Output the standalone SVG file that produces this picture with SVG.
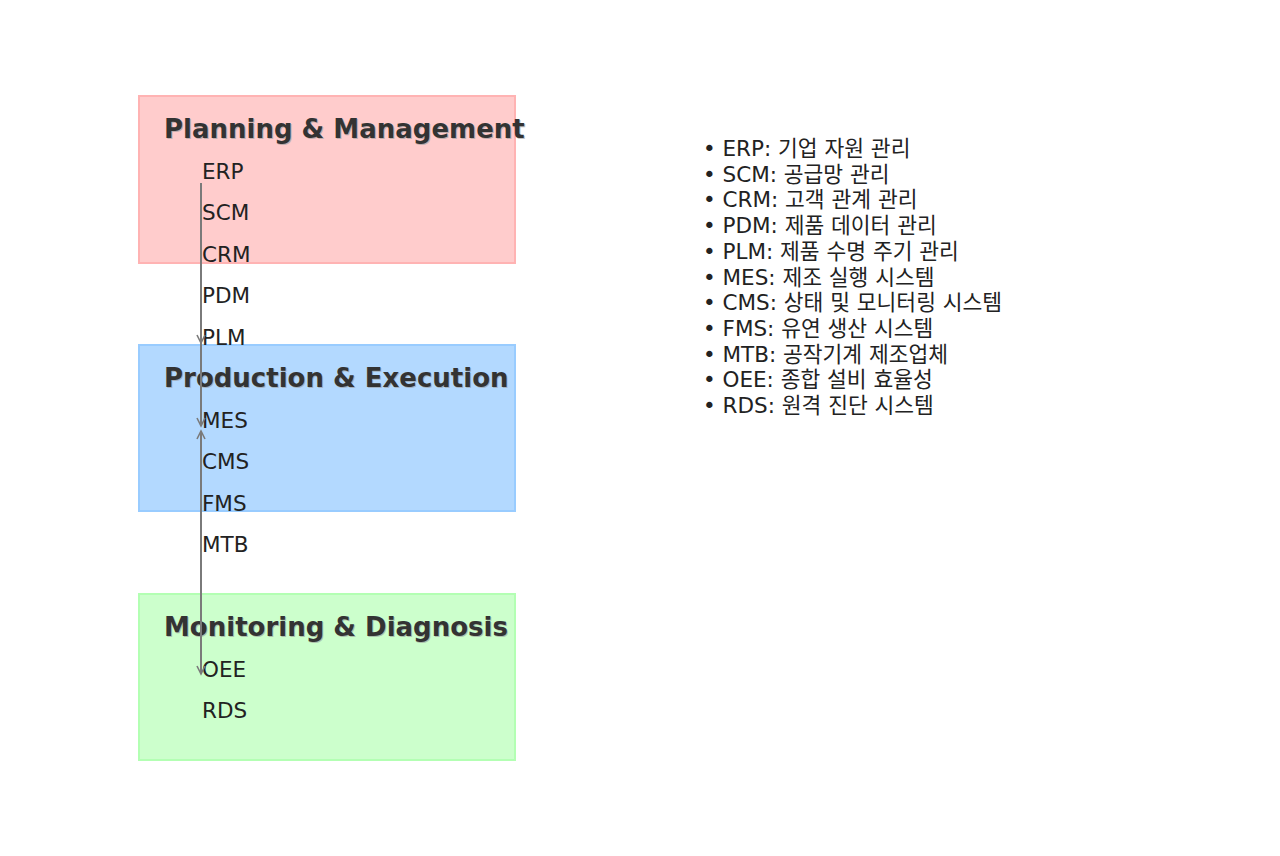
<svg xmlns="http://www.w3.org/2000/svg" width="1280" height="856" viewBox="0 0 1280 856">
<style>
.title{font-family:"DejaVu Sans",sans-serif;font-weight:bold;font-size:26px;fill:#333333}
.shadow{font-family:"DejaVu Sans",sans-serif;font-weight:bold;font-size:26px;fill:#999999;opacity:0.6}
.item{font-family:"DejaVu Sans",sans-serif;font-size:21.5px;fill:#222222}
.legend{font-family:"DejaVu Sans","Noto Sans CJK KR",sans-serif;font-size:21.5px;fill:#222222}
.conn{stroke:#7a7a7a;stroke-width:2;fill:none;marker-end:url(#arr)}
</style>
<defs>
<marker id="arr" markerWidth="12" markerHeight="12" refX="9" refY="6" orient="auto" markerUnits="userSpaceOnUse">
<path d="M1,2 L9,6 L1,10" fill="none" stroke="#7a7a7a" stroke-width="1.6"/>
</marker>
</defs>
<rect width="1280" height="856" fill="#ffffff"/>
<g id="planning">
<rect x="139" y="96" width="376" height="167" fill="#ffcccc" stroke="#ffb3b3" stroke-width="2"/>
<text class="shadow" x="165" y="139">Planning &amp; Management</text>
<text class="title" x="164" y="138">Planning &amp; Management</text>
</g>
<g id="production">
<rect x="139" y="345" width="376" height="166" fill="#b3d9ff" stroke="#99ccff" stroke-width="2"/>
<text class="shadow" x="165" y="388">Production &amp; Execution</text>
<text class="title" x="164" y="387">Production &amp; Execution</text>
</g>
<g id="monitoring">
<rect x="139" y="594" width="376" height="166" fill="#ccffcc" stroke="#b3ffb3" stroke-width="2"/>
<text class="shadow" x="165" y="637">Monitoring &amp; Diagnosis</text>
<text class="title" x="164" y="636">Monitoring &amp; Diagnosis</text>
</g>
<g id="items">
<text class="item" x="202" y="179">ERP</text>
<text class="item" x="202" y="220">SCM</text>
<text class="item" x="202" y="262">CRM</text>
<text class="item" x="202" y="303">PDM</text>
<text class="item" x="202" y="345">PLM</text>
<text class="item" x="202" y="428">MES</text>
<text class="item" x="202" y="469">CMS</text>
<text class="item" x="202" y="511">FMS</text>
<text class="item" x="202" y="552">MTB</text>
<text class="item" x="202" y="677">OEE</text>
<text class="item" x="202" y="718">RDS</text>
</g>
<g id="connectors">
<line class="conn" x1="201" y1="183" x2="201" y2="343"/>
<line class="conn" x1="201" y1="183" x2="201" y2="426"/>
<line class="conn" x1="201" y1="672" x2="201" y2="431"/>
<line class="conn" x1="201" y1="431" x2="201" y2="674"/>
</g>
<g id="legend">
<text class="legend" x="703" y="156">• ERP: 기업 자원 관리</text>
<text class="legend" x="703" y="182">• SCM: 공급망 관리</text>
<text class="legend" x="703" y="207">• CRM: 고객 관계 관리</text>
<text class="legend" x="703" y="233">• PDM: 제품 데이터 관리</text>
<text class="legend" x="703" y="259">• PLM: 제품 수명 주기 관리</text>
<text class="legend" x="703" y="285">• MES: 제조 실행 시스템</text>
<text class="legend" x="703" y="310">• CMS: 상태 및 모니터링 시스템</text>
<text class="legend" x="703" y="336">• FMS: 유연 생산 시스템</text>
<text class="legend" x="703" y="362">• MTB: 공작기계 제조업체</text>
<text class="legend" x="703" y="387">• OEE: 종합 설비 효율성</text>
<text class="legend" x="703" y="413">• RDS: 원격 진단 시스템</text>
</g>
</svg>
